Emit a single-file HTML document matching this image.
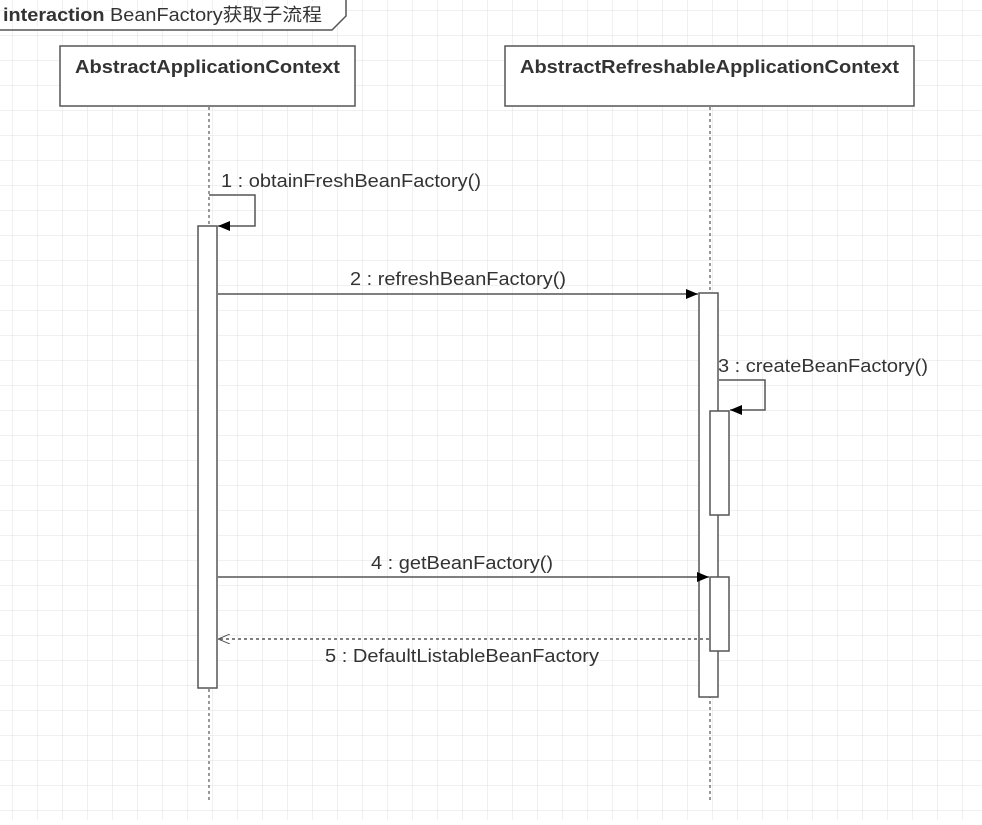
<!DOCTYPE html>
<html><head><meta charset="utf-8"><style>
body{margin:0;width:982px;height:820px;overflow:hidden;background:#fff;}
svg text{font-family:"Liberation Sans","Noto Sans CJK SC",sans-serif;fill:#333;}
</style></head><body>
<svg width="982" height="820" xmlns="http://www.w3.org/2000/svg">
<defs>
<pattern id="g" x="12" y="10" width="25" height="25" patternUnits="userSpaceOnUse">
<path d="M0 0H25M0 0V25" stroke="#e2e2e2" stroke-width="1" fill="none"/>
</pattern>
<marker id="a" markerWidth="12" markerHeight="10" refX="12" refY="5" orient="auto" markerUnits="userSpaceOnUse"><path d="M0 0L12 5L0 10Z" fill="#000"/></marker>
<marker id="o" markerWidth="12" markerHeight="10" refX="12" refY="5" orient="auto" markerUnits="userSpaceOnUse"><path d="M0 0L12 5L0 10" fill="none" stroke="#555"/></marker>
</defs>
<rect width="982" height="820" fill="url(#g)"/>
<path d="M-1 30H332L346 16V-1" fill="#fff" stroke="#555" stroke-width="1.5"/>
<text x="3" y="21" font-size="18" textLength="319" lengthAdjust="spacingAndGlyphs"><tspan font-weight="bold">interaction</tspan> BeanFactory获取子流程</text>
<rect x="60" y="46" width="295" height="60" fill="#fff" stroke="#555" stroke-width="1.5"/>
<text x="75" y="73" font-size="18" font-weight="bold" textLength="265" lengthAdjust="spacingAndGlyphs">AbstractApplicationContext</text>
<rect x="505" y="46" width="409" height="60" fill="#fff" stroke="#555" stroke-width="1.5"/>
<text x="520" y="73" font-size="18" font-weight="bold" textLength="379" lengthAdjust="spacingAndGlyphs">AbstractRefreshableApplicationContext</text>
<path d="M209 107V800M710 107V800" stroke="#333" stroke-dasharray="3,3"/>
<rect x="198" y="226" width="19" height="462" fill="#fff" stroke="#555" stroke-width="1.5"/>
<rect x="699" y="293" width="19" height="404" fill="#fff" stroke="#555" stroke-width="1.5"/>
<rect x="710" y="411" width="19" height="104" fill="#fff" stroke="#555" stroke-width="1.5"/>
<rect x="710" y="577" width="19" height="74" fill="#fff" stroke="#555" stroke-width="1.5"/>
<path d="M209 195H255V226H218" fill="none" stroke="#555" stroke-width="1.5" marker-end="url(#a)"/>
<text x="221" y="187" font-size="18" textLength="260" lengthAdjust="spacingAndGlyphs">1 : obtainFreshBeanFactory()</text>
<path d="M218 294H698" stroke="#555" stroke-width="1.5" marker-end="url(#a)"/>
<text x="350" y="285" font-size="18" textLength="216" lengthAdjust="spacingAndGlyphs">2 : refreshBeanFactory()</text>
<path d="M719 380H765V410H730" fill="none" stroke="#555" stroke-width="1.5" marker-end="url(#a)"/>
<text x="718" y="372" font-size="18" textLength="210" lengthAdjust="spacingAndGlyphs">3 : createBeanFactory()</text>
<path d="M218 577H709" stroke="#555" stroke-width="1.5" marker-end="url(#a)"/>
<text x="371" y="569" font-size="18" textLength="182" lengthAdjust="spacingAndGlyphs">4 : getBeanFactory()</text>
<path d="M709 639H218" stroke="#555" stroke-width="1.5" stroke-dasharray="3,3" marker-end="url(#o)"/>
<text x="325" y="662" font-size="18" textLength="274" lengthAdjust="spacingAndGlyphs">5 : DefaultListableBeanFactory</text>
</svg>
</body></html>
